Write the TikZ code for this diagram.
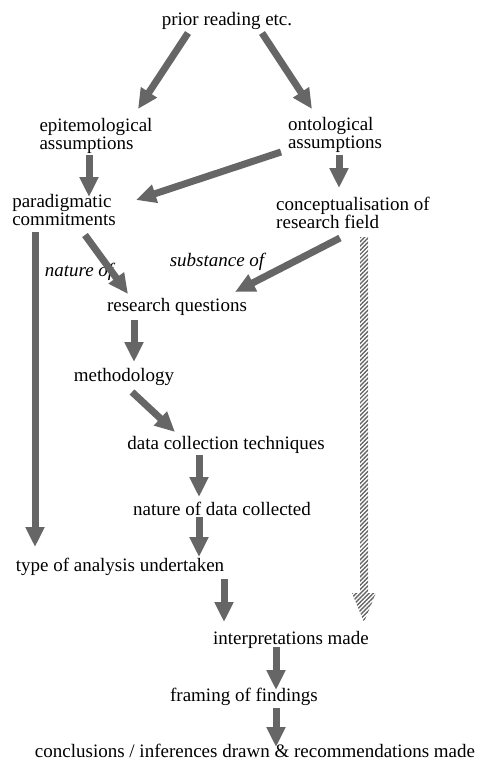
\documentclass[tikz,border=0pt]{standalone}
\usepackage{fontspec}
\setmainfont{Liberation Serif}
\usetikzlibrary{arrows.meta,calc,patterns.meta}
\definecolor{arrowgray}{RGB}{102,102,102}
\tikzset{
    stage/.style={inner sep=0pt, font=\fontsize{19}{18}\selectfont, align=left},
    remark/.style={inner sep=0pt, font=\fontsize{19}{18}\selectfont\itshape},
    flow/.style={draw=arrowgray, line width=7pt, -{Triangle[width=18pt,length=20pt]}}
}
\begin{document}
\begin{tikzpicture}[x=1pt,y=-1pt]
        \useasboundingbox (0,0) rectangle (480,763);

        % Stages
        \node[stage] (prior) at (227,21) {prior reading etc.};
        \node[stage] (epi) at (96,136) {epitemological\\assumptions};
        \node[stage] (onto) at (335,135) {ontological\\assumptions};
        \node[stage] (para) at (64,210) {paradigmatic\\commitments};
        \node[stage] (concept) at (353,213) {conceptualisation of\\research field};
        \node[remark] (natureof) at (79,272) {nature of};
        \node[remark] (substof) at (217,262) {substance of};
        \node[stage] (rq) at (177,307) {research questions};
        \node[stage] (meth) at (124,377) {methodology};
        \node[stage] (dct) at (226,445) {data collection techniques};
        \node[stage] (ndc) at (222,509) {nature of data collected};
        \node[stage] (toa) at (120,567) {type of analysis undertaken};
        \node[stage] (interp) at (291,640) {interpretations made};
        \node[stage] (framing) at (244,697) {framing of findings};
        \node[stage] (concl) at (255,751) {conclusions / inferences drawn \& recommendations made};

        % Draw arrows
        \draw[flow] ($(prior)+(-39,12)$) -- ($(epi)+(42,-27)$);
        \draw[flow] ($(prior)+(35,12)$) -- ($(onto)+(-23,-26)$);
        \draw[flow] ($(epi)+(-7,19)$) -- ($(para)+(25,-13)$);
        \draw[flow] ($(onto)+(-54,17)$) -- ($(para)+(72,-10)$);
        \draw[flow] ($(onto)+(4,20)$) -- ($(concept)+(-14,-25)$);
        \draw[flow] ($(para)+(-29,22)$) -- ($(toa)+(-85,-20)$);
        \draw[flow] ($(para)+(21,25)$) -- ($(rq)+(-49,-13)$);
        \draw[flow] ($(concept)+(-13,25)$) -- ($(rq)+(58,-15)$);
        \draw[flow] ($(rq)+(-43,13)$) -- ($(meth)+(10,-15)$);
        \draw[flow] ($(meth)+(8,15)$) -- ($(dct)+(-51,-13)$);
        \draw[flow] ($(dct)+(-27,10)$) -- ($(ndc)+(-23,-12)$);
        \draw[flow] ($(ndc)+(-23,8)$) -- ($(toa)+(79,-10)$);
        \draw[flow] ($(toa)+(104,12)$) -- ($(interp)+(-67,-18)$);
        \draw[flow] ($(interp)+(-15,7)$) -- ($(framing)+(32,-7)$);
        \draw[flow] ($(framing)+(32,11)$) -- ($(concl)+(21,-4)$);

        % Hatched arrow
        \coordinate (hs) at ($(concept)+(11,24)$);
        \coordinate (he) at ($(interp)+(73,-18)$);
        \fill[pattern={Lines[angle=45,distance=3pt,line width=1.4pt]}, pattern color=arrowgray]
            ($(hs)+(-4,0)$) -- ($(hs)+(4,0)$) -- ($(he)+(4,-29)$) -- ($(he)+(12,-29)$)
            -- (he) -- ($(he)+(-12,-29)$) -- ($(he)+(-4,-29)$) -- cycle;
    \end{tikzpicture}
\end{document}
